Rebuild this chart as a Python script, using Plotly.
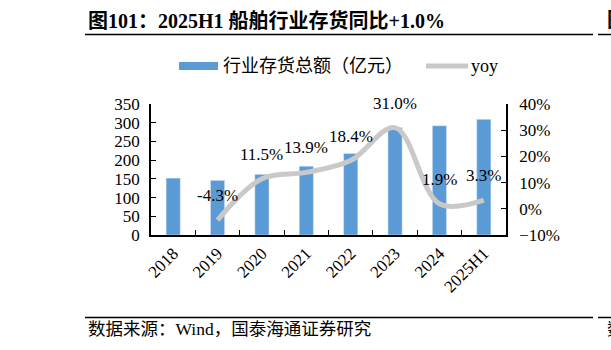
import plotly.graph_objects as go

categories = ["2018", "2019", "2020", "2021", "2022", "2023", "2024", "2025H1"]
inventory = [152, 146, 162, 184, 218, 287, 292, 309]
yoy_cats = ["2019", "2020", "2021", "2022", "2023", "2024", "2025H1"]
yoy = [-4.3, 11.5, 13.9, 18.4, 31.0, 1.9, 3.3]
yoy_labels = ["-4.3%", "11.5%", "13.9%", "18.4%", "31.0%", "1.9%", "3.3%"]

title_text = "<b>图101：2025H1 船舶行业存货同比+1.0%</b>"
source_text = "数据来源：Wind，国泰海通证券研究"
legend_bar = "行业存货总额（亿元）"
legend_line = "yoy"

FONT = "Times New Roman, Liberation Serif, Noto Sans CJK SC, serif"
BLUE = "#5B9BD5"
GREY = "#C9C9C9"

L, R, T, B = 151, 105, 104, 115
W, H = 611, 350
PW, PH = W - L - R, H - T - B

def px(x):
    return (x - L) / PW

def py(y):
    return (H - B - y) / PH

fig = go.Figure()
fig.add_trace(go.Bar(x=categories, y=inventory, marker_color=BLUE, width=0.32,
                     name=legend_bar, showlegend=False))
fig.add_trace(go.Scatter(x=yoy_cats, y=yoy, yaxis="y2", mode="lines",
                         line=dict(color=GREY, width=5, shape="spline", smoothing=1.0),
                         name=legend_line, showlegend=False))

annotations = []
for c, v, t in zip(yoy_cats, yoy, yoy_labels):
    annotations.append(dict(x=categories.index(c), y=v, xref="x", yref="y2", text=t, showarrow=False,
                            yanchor="bottom", yshift=13, font=dict(size=17, color="black", family=FONT)))

annotations += [
    dict(x=px(86), y=py(20), xref="paper", yref="paper", text=title_text, showarrow=False,
         xanchor="left", yanchor="middle", font=dict(size=20, color="black", family=FONT)),
    dict(x=px(86), y=py(329), xref="paper", yref="paper", text=source_text, showarrow=False,
         xanchor="left", yanchor="middle", font=dict(size=17.5, color="black", family=FONT)),
    dict(x=px(221), y=py(66), xref="paper", yref="paper", text=legend_bar, showarrow=False,
         xanchor="left", yanchor="middle", font=dict(size=18, color="black", family=FONT)),
    dict(x=px(469), y=py(66), xref="paper", yref="paper", text=legend_line, showarrow=False,
         xanchor="left", yanchor="middle", font=dict(size=18, color="black", family=FONT)),
    dict(x=px(605), y=py(20), xref="paper", yref="paper", text="<b>图</b>", showarrow=False,
         xanchor="left", yanchor="middle", font=dict(size=20, color="black", family=FONT)),
    dict(x=px(605), y=py(329), xref="paper", yref="paper", text="数", showarrow=False,
         xanchor="left", yanchor="middle", font=dict(size=17.5, color="black", family=FONT)),
]

shapes = [
    dict(type="line", xref="paper", yref="paper", x0=px(85), x1=px(593), y0=py(34.5), y1=py(34.5),
         line=dict(color="black", width=1.5)),
    dict(type="line", xref="paper", yref="paper", x0=px(598), x1=px(611), y0=py(34.5), y1=py(34.5),
         line=dict(color="black", width=1.5)),
    dict(type="line", xref="paper", yref="paper", x0=px(85), x1=px(593), y0=py(317.5), y1=py(317.5),
         line=dict(color="black", width=1.5)),
    dict(type="line", xref="paper", yref="paper", x0=px(598), x1=px(611), y0=py(317.5), y1=py(317.5),
         line=dict(color="black", width=1.5)),
    dict(type="rect", xref="paper", yref="paper", x0=px(179), x1=px(218), y0=py(70), y1=py(62),
         fillcolor=BLUE, line=dict(width=0)),
    dict(type="line", xref="paper", yref="paper", x0=px(426), x1=px(468), y0=py(66), y1=py(66),
         line=dict(color=GREY, width=5)),
]

fig.update_layout(
    width=W, height=H,
    margin=dict(l=L, r=R, t=T, b=B, pad=0),
    paper_bgcolor="white", plot_bgcolor="white",
    font=dict(family=FONT, size=17, color="black"),
    showlegend=False,
    annotations=annotations,
    shapes=shapes,
    xaxis=dict(type="category", categoryorder="array", categoryarray=categories,
               range=[-0.5, len(categories) - 0.5],
               showline=True, linecolor="black", linewidth=1.5,
               ticks="inside", tickson="boundaries", ticklen=5, tickcolor="black",
               tickangle=-45, tickfont=dict(size=17), showgrid=False),
    yaxis=dict(range=[0, 350], dtick=50, showline=True, linecolor="black", linewidth=1.5,
               ticks="inside", ticklen=5, tickcolor="black", showgrid=False, zeroline=False,
               tickfont=dict(size=17), ticklabelstandoff=6),
    yaxis2=dict(range=[-10, 40], dtick=10, ticksuffix="%", overlaying="y", side="right",
                showline=True, linecolor="black", linewidth=1.5,
                ticks="inside", ticklen=5, tickcolor="black", showgrid=False, zeroline=False,
                tickfont=dict(size=17), ticklabelstandoff=8),
)

fig.write_html("out.html")
